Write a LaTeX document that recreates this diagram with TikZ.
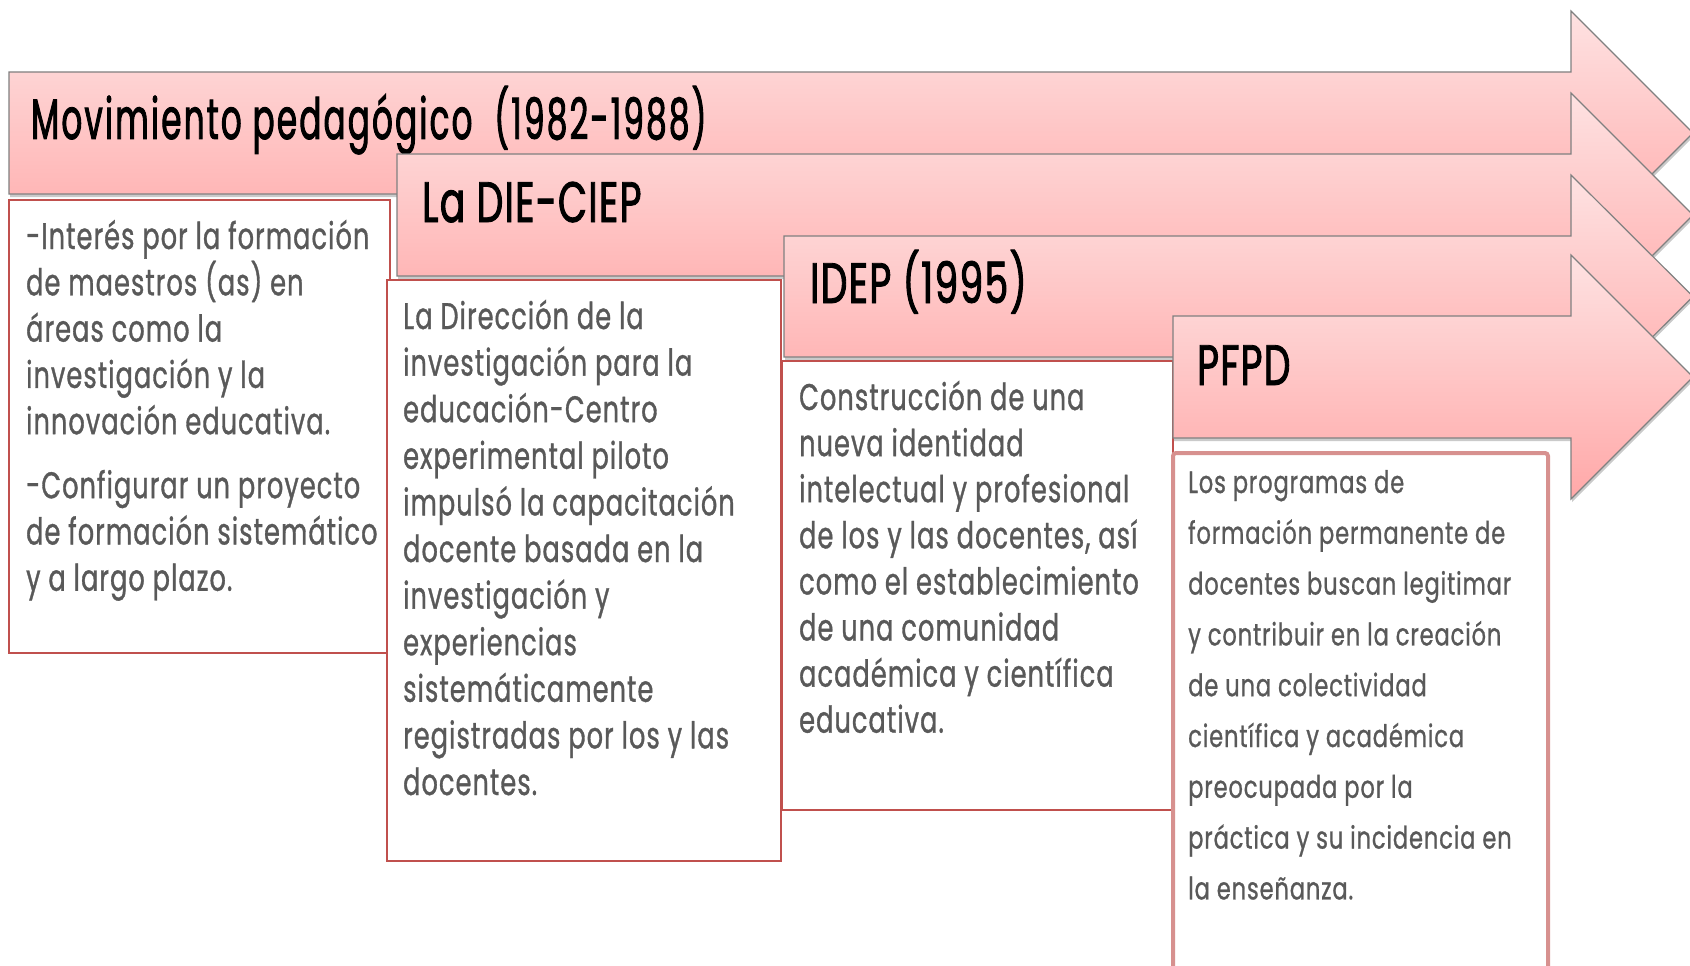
\documentclass[tikz,border=0pt]{standalone}
\usepackage{fontspec}
\usetikzlibrary{shadows}
\newfontfamily\titlefont{Poppins}[FakeStretch=0.66, FakeBold=1.6, LetterSpace=2.4]
\newfontfamily\longtitlefont{Poppins}[FakeStretch=0.57, FakeBold=1.6, LetterSpace=4]
\newfontfamily\bodyfont{Poppins}[FakeStretch=0.69, FakeBold=0.9, LetterSpace=3]
\newfontfamily\smallbodyfont{Poppins}[FakeStretch=0.73, FakeBold=0.8, LetterSpace=2.7]
\definecolor{arrowtop}{RGB}{254,226,226}
\definecolor{arrowbot}{RGB}{255,168,168}
\definecolor{arrowline}{RGB}{128,128,128}
\definecolor{boxred}{RGB}{192,80,77}
\definecolor{boxpink}{RGB}{215,145,143}
\definecolor{bodygray}{RGB}{89,89,89}
\newcommand\linesblock[2]{\vtop{\hsize=600pt\parindent=0pt\baselineskip=#1\relax\lineskiplimit=-100pt #2}}
\tikzset{
  bigarrow/.style={draw=arrowline, line width=1.2pt, top color=arrowtop, bottom color=arrowbot,
    drop shadow={shadow xshift=1pt, shadow yshift=-3pt, opacity=.35, fill=black!60}},
  textbox/.style={draw=boxred, line width=2.2pt, fill=white},
  lastbox/.style={draw=boxpink, line width=4pt, fill=white, rounded corners=3pt},
  titletext/.style={anchor=base west, inner sep=0pt, font=\titlefont\fontsize{57}{60}\selectfont, text=black},
  bodytext/.style={anchor=base west, inner sep=0pt, font=\bodyfont\fontsize{37}{46}\selectfont, text=bodygray},
  smalltext/.style={anchor=base west, inner sep=0pt, font=\smallbodyfont\fontsize{31}{50}\selectfont, text=bodygray}
}
\begin{document}
\begin{tikzpicture}[x=1pt,y=-1pt]
\useasboundingbox (0,0) rectangle (1690,966);
% arrow 1
\path[bigarrow] (9,72) -- (1571,72) -- (1571,11) -- (1693,133) -- (1571,255) -- (1571,194) -- (9,194) -- cycle;
\node[titletext, font=\longtitlefont\fontsize{57}{60}\selectfont] (t1) at (31,139) {Movimiento pedagógico\ \ (1982-1988)};
\path[textbox] (9,200) rectangle (390,653);
\node[bodytext] (b1) at (26,249) {\linesblock{46.3pt}{-Interés por la formación\\de maestros (as) en\\áreas como la\\investigación y la\\innovación educativa.\\[17.7pt]-Configurar un proyecto\\de formación sistemático\\y a largo plazo.}};
% arrow 2
\path[bigarrow] (397,154) -- (1571,154) -- (1571,93) -- (1693,215) -- (1571,337) -- (1571,276) -- (397,276) -- cycle;
\node[titletext] (t2) at (422,222) {La DIE-CIEP};
\path[textbox] (387,280) rectangle (781,861);
\node[bodytext] (b2) at (403,329) {\linesblock{46.6pt}{La Dirección de la\\investigación para la\\educación-Centro\\experimental piloto\\impulsó la capacitación\\docente basada en la\\investigación y\\experiencias\\sistemáticamente\\registradas por los y las\\docentes.}};
% arrow 3
\path[bigarrow] (784,236) -- (1571,236) -- (1571,175) -- (1693,296.5) -- (1571,418) -- (1571,357) -- (784,357) -- cycle;
\node[titletext] (t3) at (810,303) {IDEP (1995)};
\path[textbox] (782,361) rectangle (1173,810);
\node[bodytext] (b3) at (799,410) {\linesblock{46.1pt}{Construcción de una\\nueva identidad\\intelectual y profesional\\de los y las docentes, así\\como el establecimiento\\de una comunidad\\académica y científica\\educativa.}};
% arrow 4
\path[bigarrow] (1173,316) -- (1571,316) -- (1571,255) -- (1693,377) -- (1571,499) -- (1571,438) -- (1173,438) -- cycle;
\node[titletext] (t4) at (1197,385) {PFPD};
\path[lastbox] (1173,453) -- (1173,990) -- (1548,990) -- (1548,453) -- cycle;
\node[smalltext] (b4) at (1188,493) {\linesblock{50.8pt}{Los programas de\\formación permanente de\\docentes buscan legitimar\\y contribuir en la creación\\de una colectividad\\científica y académica\\preocupada por la\\práctica y su incidencia en\\la enseñanza.}};
\end{tikzpicture}
\end{document}
